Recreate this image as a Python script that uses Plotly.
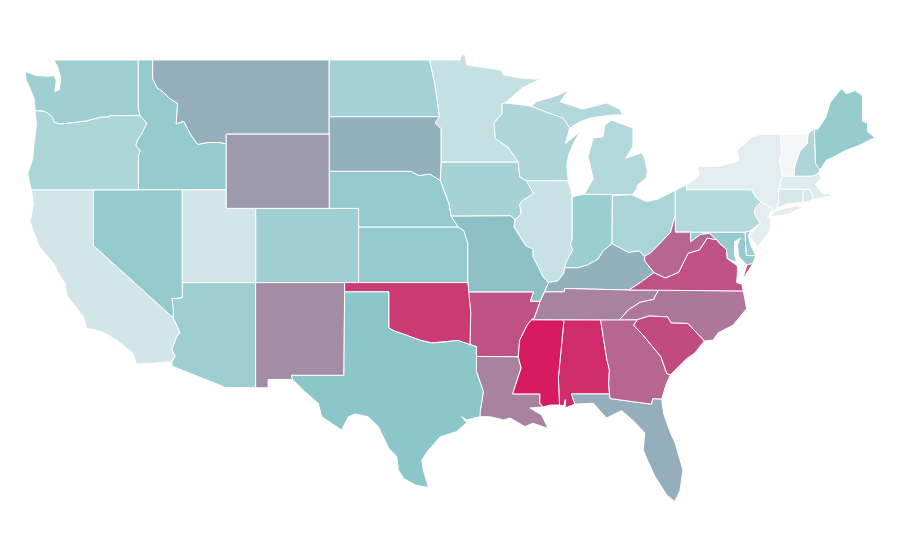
import plotly.graph_objects as go
from plotly.colors import sample_colorscale

# state values
states = ["AL","AR","AZ","CA","CO","CT","DE","FL","GA","IA","ID","IL","IN","KS","KY","LA","MA","MD","ME","MI","MN","MO","MS","MT","NC","ND","NE","NH","NJ","NM","NV","NY","OH","OK","OR","PA","RI","SC","SD","TN","TX","UT","VA","VT","WA","WI","WV","WY"]
values = [95,84,41,16,40,14,42,57,78,37,45,21,42,46,56,70,10,45,44,31,22,52,100,57,73,38,46,33,8,67,46,8,35,91,34,30,14,86,56,70,50,16,84,0,40,33,78,63]

colorscale = [[0, "rgb(244,245,247)"], [0.5, "rgb(138,198,202)"], [1, "rgb(216,27,96)"]]

# the topojson base map can't be fetched offline, so these are
# approximate state outlines (lon, lat), estimated by hand
WA = [(-117.04,49),(-122.76,49),(-122.5,48.6),(-122.3,48),(-122.4,47.4),(-122.7,47.3),(-122.6,47.9),(-122.75,48.15),(-123.3,48.12),(-124,48.17),(-124.73,48.38),(-124.65,47.9),(-124.3,47.3),(-124.1,46.9),(-124.05,46.27),(-123.5,46.25),(-123.2,46.15),(-122.85,45.9),(-122.75,45.65),(-122.3,45.55),(-121.2,45.65),(-120.5,45.72),(-119.6,45.92),(-119,45.93),(-118.98,46),(-116.92,46),(-117.04,46.42)]
OR = [(-124.05,46.27),(-123.95,45.5),(-124.1,44.6),(-124.2,43.7),(-124.55,42.84),(-124.3,42),(-117.03,42),(-117.03,43.83),(-116.9,44.1),(-117.2,44.4),(-117.05,44.75),(-116.85,44.95),(-116.5,45.5),(-116.47,45.6),(-116.92,46),(-118.98,46),(-119,45.93),(-119.6,45.92),(-120.5,45.72),(-121.2,45.65),(-122.3,45.55),(-122.75,45.65),(-122.85,45.9),(-123.2,46.15),(-123.5,46.25)]
CA = [(-124.3,42),(-120.08,42),(-120.08,39),(-114.65,35.1),(-114.2,34.3),(-114.43,34.08),(-114.75,33.37),(-114.52,33.03),(-114.75,32.73),(-117.15,32.6),(-117.4,33.2),(-118.5,33.9),(-119.5,34.35),(-120.53,34.54),(-120.77,35.16),(-121.9,36.33),(-122,36.95),(-122.47,37.5),(-122.7,37.95),(-123.76,38.94),(-124.39,40.28),(-124.16,41.18)]
NV = [(-120.08,42),(-114.04,42),(-114.04,36.2),(-114.37,36.15),(-114.75,36.15),(-114.65,35.6),(-114.65,35.1),(-120.08,39)]
ID = [(-117.04,49),(-116.05,49),(-116.05,48),(-115.75,47.5),(-115.3,47.25),(-114.95,46.95),(-114.35,46.65),(-114.45,45.55),(-113.95,45.7),(-113.45,44.95),(-113,44.45),(-112.3,44.55),(-111.5,44.55),(-111.05,44.48),(-111.05,42),(-117.03,42),(-117.03,43.83),(-116.9,44.1),(-117.2,44.4),(-117.05,44.75),(-116.85,44.95),(-116.5,45.5),(-116.47,45.6),(-116.92,46),(-117.04,46.42)]
MT = [(-116.05,49),(-104.05,49),(-104.05,45),(-111.05,45),(-111.05,44.48),(-111.5,44.55),(-112.3,44.55),(-113,44.45),(-113.45,44.95),(-113.95,45.7),(-114.45,45.55),(-114.35,46.65),(-114.95,46.95),(-115.3,47.25),(-115.75,47.5),(-116.05,48)]
WY = [(-111.05,45),(-104.05,45),(-104.05,41),(-111.05,41)]
UT = [(-114.04,42),(-111.05,42),(-111.05,41),(-109.05,41),(-109.05,37),(-114.04,37)]
CO = [(-109.05,41),(-102.05,41),(-102.05,37),(-109.05,37)]
AZ = [(-114.04,37),(-109.05,37),(-109.05,31.33),(-111.1,31.35),(-114.75,32.5),(-114.75,32.73),(-114.52,33.03),(-114.75,33.37),(-114.43,34.08),(-114.2,34.3),(-114.65,35.1),(-114.65,35.6),(-114.75,36.15),(-114.37,36.15),(-114.04,36.2)]
NM = [(-109.05,37),(-103,37),(-103.05,32),(-106.62,32),(-106.53,31.78),(-108.2,31.78),(-108.2,31.33),(-109.05,31.33)]
ND = [(-104.05,49),(-97.23,49),(-96.85,47.6),(-96.56,45.94),(-104.05,45.94)]
SD = [(-104.05,45.94),(-96.56,45.94),(-96.85,45.6),(-96.45,45.3),(-96.45,43.5),(-96.5,42.5),(-97.2,42.85),(-97.95,42.77),(-98.5,43),(-104.05,43)]
NE = [(-104.05,43),(-98.5,43),(-97.95,42.77),(-97.2,42.85),(-96.5,42.5),(-96.1,41.7),(-95.9,41.2),(-95.77,40.58),(-95.3,40),(-102.05,40),(-102.05,41),(-104.05,41)]
KS = [(-102.05,40),(-95.3,40),(-94.9,39.8),(-94.62,39.1),(-94.62,37),(-102.05,37)]
OK = [(-103,37),(-94.62,37),(-94.43,35.4),(-94.48,33.64),(-95.3,33.88),(-96.4,33.78),(-97.1,33.75),(-97.9,33.9),(-98.9,34.2),(-99.6,34.38),(-100,34.56),(-100,36.5),(-103,36.5)]
TX = [(-103,36.5),(-100,36.5),(-100,34.56),(-99.6,34.38),(-98.9,34.2),(-97.9,33.9),(-97.1,33.75),(-96.4,33.78),(-95.3,33.88),(-94.48,33.64),(-94.04,33.55),(-94.04,32.2),(-93.57,31.12),(-93.8,29.97),(-93.8,29.77),(-94.7,29.6),(-95.04,29.77),(-94.7,29.45),(-95.4,28.96),(-96.5,28.69),(-97.3,27.98),(-97.75,27.44),(-97.65,26.9),(-97.3,25.96),(-98.2,26.09),(-99,26.45),(-99.35,26.9),(-99.46,27.62),(-100,28.07),(-100.7,29.23),(-101.4,29.77),(-102.3,29.92),(-102.75,29.77),(-103.2,29.05),(-104.56,29.77),(-104.8,30.5),(-105.7,31.12),(-106.53,31.78),(-106.62,32),(-103.05,32)]
MN = [(-97.23,49),(-95.15,49),(-95.05,49.27),(-94.8,49.27),(-94.7,48.73),(-93.3,48.55),(-92.4,48.46),(-92.2,48.2),(-91.1,48.03),(-89.72,47.96),(-90.9,47.5),(-92.1,46.68),(-92.3,46.65),(-92.3,46.1),(-92.85,45.6),(-92.75,44.75),(-91.9,44.3),(-91.2,43.5),(-96.45,43.5),(-96.45,45.3),(-96.85,45.6),(-96.56,45.94),(-96.85,47.6)]
IA = [(-96.45,43.5),(-91.2,43.5),(-91.1,42.7),(-90.65,42.5),(-90.15,41.8),(-90.95,41.4),(-91.1,41.2),(-91,40.7),(-91.42,40.38),(-91.7,40.6),(-95.77,40.58),(-95.9,41.2),(-96.1,41.7),(-96.5,42.5)]
MO = [(-95.77,40.58),(-91.7,40.6),(-91.42,40.38),(-91.5,40),(-90.7,39),(-90.2,38.8),(-90.2,38.4),(-89.5,37.3),(-89.15,37),(-89.4,36.5),(-89.7,36),(-90.37,36),(-90.15,36.5),(-94.62,36.5),(-94.62,39.1),(-94.9,39.8),(-95.3,40)]
AR = [(-94.62,36.5),(-90.15,36.5),(-90.37,36),(-89.7,36),(-90.1,35.1),(-90.6,34.7),(-91.1,33.9),(-91.2,33),(-94.04,33.02),(-94.04,33.55),(-94.48,33.64),(-94.43,35.4)]
LA = [(-94.04,33.02),(-91.2,33),(-91,32.4),(-91.58,31),(-89.73,31),(-89.73,30.5),(-89.5,30.3),(-90.4,30.24),(-89.6,29.86),(-89.17,29.14),(-90.2,29.42),(-90.75,29.24),(-91.75,29.7),(-92.2,29.6),(-93.1,29.77),(-93.8,29.77),(-93.8,29.97),(-93.57,31.12),(-94.04,32.2)]
MS = [(-91.58,31),(-91,32.4),(-91.2,33),(-91.1,33.9),(-90.6,34.7),(-90.3,35),(-88.2,35),(-88.1,34.9),(-88.47,31.9),(-88.4,30.4),(-89,30.4),(-89.5,30.3),(-89.73,30.5),(-89.73,31)]
AL = [(-88.2,35),(-85.6,35),(-85.18,32.87),(-85,32.3),(-85.05,31.55),(-85,31),(-87.58,31),(-87.35,30.45),(-88,30.25),(-88,30.7),(-88.1,30.35),(-88.4,30.4),(-88.47,31.9),(-88.1,34.9)]
GA = [(-85.6,35),(-83.1,35),(-83.35,34.7),(-82.75,34.2),(-81.9,33.4),(-81.5,33),(-81.1,32.1),(-80.85,32.03),(-81.15,31.5),(-81.45,30.72),(-82.05,30.75),(-82.15,30.45),(-84.96,30.75),(-85,31),(-85.05,31.55),(-85,32.3),(-85.18,32.87)]
FL = [(-87.58,31),(-85,31),(-84.96,30.75),(-82.15,30.45),(-82.05,30.75),(-81.45,30.72),(-81.3,29.9),(-80.85,28.9),(-80.55,28.4),(-80,26.9),(-80.2,25.8),(-80.55,25.2),(-81.1,25.55),(-81.9,26.55),(-82.37,27.35),(-82.7,27.97),(-82.6,28.9),(-83.3,29.5),(-84.17,30.1),(-85.2,29.7),(-86.1,30.5),(-87.35,30.45)]
SC = [(-83.1,35),(-82.3,35.2),(-81.05,35.15),(-80.8,34.82),(-79.67,34.8),(-78.55,33.85),(-79.2,33.2),(-79.75,32.9),(-80.85,32.03),(-81.1,32.1),(-81.5,33),(-81.9,33.4),(-82.75,34.2),(-83.35,34.7)]
NC = [(-84.32,34.99),(-83.1,35),(-82.3,35.2),(-81.05,35.15),(-80.8,34.82),(-79.67,34.8),(-78.55,33.85),(-77.95,33.9),(-77.6,34.3),(-76.6,34.7),(-75.67,35.6),(-75.9,36.55),(-81.68,36.59),(-82,36.1),(-82.9,35.95),(-83.7,35.55)]
TN = [(-90.3,35),(-88.2,35),(-85.6,35),(-84.32,34.99),(-83.7,35.55),(-82.9,35.95),(-82,36.1),(-81.68,36.59),(-83.68,36.6),(-88.05,36.68),(-88.07,36.5),(-89.4,36.5),(-89.7,36),(-90.1,35.1)]
KY = [(-89.4,36.5),(-88.07,36.5),(-88.05,36.68),(-83.68,36.6),(-82.9,37),(-81.97,37.54),(-82.6,38.17),(-82.6,38.42),(-83,38.72),(-83.7,38.63),(-84.2,38.85),(-84.82,39.1),(-85.4,38.73),(-85.8,38.25),(-86.5,37.95),(-87.1,37.8),(-88.05,37.8),(-88.1,37.5),(-88.5,37.1),(-89.15,37)]
VA = [(-83.68,36.6),(-81.68,36.59),(-75.9,36.55),(-76,36.93),(-76.35,37),(-76.3,37.5),(-76.3,37.9),(-77,38.3),(-77.05,38.8),(-77.5,39.1),(-77.72,39.32),(-78.35,39.4),(-78.87,38.77),(-79.65,38.58),(-80.3,37.55),(-81.2,37.25),(-81.97,37.54),(-82.9,37)]
VA_SHORE = [(-75.95,37.15),(-75.25,38.03),(-75.65,37.95)]
WV = [(-81.97,37.54),(-81.2,37.25),(-80.3,37.55),(-79.65,38.58),(-78.87,38.77),(-78.35,39.4),(-77.72,39.32),(-78.2,39.65),(-78.8,39.6),(-79.48,39.2),(-79.48,39.72),(-80.52,39.72),(-80.52,40.64),(-80.85,39.7),(-81.7,39),(-82.2,38.6),(-82.6,38.42),(-82.6,38.17)]
MD = [(-79.48,39.72),(-75.79,39.72),(-75.7,38.46),(-75.05,38.45),(-75.25,38.03),(-75.65,37.95),(-76.2,38.4),(-76.3,39),(-76.1,39.4),(-76.5,39.2),(-76.5,38.5),(-76.35,38.1),(-77,38.3),(-77.05,38.8),(-77.5,39.1),(-77.72,39.32),(-78.2,39.65),(-78.8,39.6),(-79.48,39.2)]
DE = [(-75.79,39.72),(-75.42,39.8),(-75.55,39.5),(-75.4,39.05),(-75.05,38.45),(-75.7,38.46)]
PA = [(-80.52,41.98),(-79.76,42.27),(-79.76,42),(-75.35,42),(-75.05,41.6),(-74.7,41.36),(-75.1,41),(-75.15,40.7),(-74.75,40.2),(-75.42,39.8),(-75.79,39.72),(-80.52,39.72)]
NJ = [(-74.7,41.36),(-73.9,41),(-74.25,40.5),(-74,40.45),(-74.1,39.75),(-74.9,38.93),(-75.5,39.5),(-74.75,40.2),(-75.15,40.7),(-75.1,41)]
NY = [(-79.76,42.27),(-79,42.7),(-78.9,42.9),(-79.05,43.27),(-77.5,43.27),(-76.2,43.55),(-76.3,44.15),(-75.3,44.85),(-74.7,45),(-73.35,45),(-73.3,44),(-73.43,43.6),(-73.25,42.75),(-73.5,42.05),(-73.5,41.3),(-73.65,41),(-74,40.7),(-73.9,41),(-74.7,41.36),(-75.05,41.6),(-75.35,42),(-79.76,42)]
LONG_ISLAND = [(-74,40.6),(-73.7,40.87),(-72.3,41.15),(-71.87,41.07),(-72.8,40.7),(-73.9,40.55)]
VT = [(-73.35,45),(-71.5,45),(-71.55,44.5),(-72.05,44.1),(-72.4,43.3),(-72.46,42.73),(-73.25,42.75),(-73.43,43.6),(-73.3,44)]
NH = [(-71.5,45),(-71.08,45.3),(-71,43.55),(-70.98,43.4),(-70.7,43.07),(-70.82,42.87),(-71.25,42.74),(-72.46,42.73),(-72.4,43.3),(-72.05,44.1),(-71.55,44.5)]
ME = [(-71.08,45.3),(-70.85,45.25),(-70.3,45.9),(-70,46.7),(-69.23,47.46),(-68.9,47.18),(-68.3,47.35),(-67.79,47.07),(-67.8,45.7),(-67.45,45.6),(-67.45,45.15),(-66.97,44.82),(-68,44.4),(-69,44.1),(-69.8,43.75),(-70.25,43.6),(-70.7,43.07),(-70.98,43.4),(-71,43.55)]
MA = [(-73.5,42.05),(-73.25,42.75),(-72.46,42.73),(-71.25,42.74),(-70.82,42.87),(-70.6,42.65),(-71,42.3),(-70.65,41.95),(-70.5,41.78),(-70,41.8),(-69.95,41.67),(-70.65,41.55),(-71.12,41.5),(-71.38,42.02),(-71.8,42.02)]
CT = [(-73.5,42.05),(-71.8,42.02),(-71.85,41.32),(-72.9,41.25),(-73.65,41),(-73.5,41.3)]
RI = [(-71.8,42.02),(-71.38,42.02),(-71.12,41.5),(-71.5,41.37),(-71.85,41.32)]
WI = [(-92.3,46.65),(-92.1,46.68),(-90.9,46.57),(-90.3,46.5),(-89.1,46.13),(-88.15,45.87),(-87.7,45.33),(-88,44.5),(-87,45.14),(-87.5,44.4),(-87.8,43.8),(-87.9,43.25),(-87.8,42.49),(-90.65,42.5),(-91.1,42.7),(-91.2,43.5),(-91.9,44.3),(-92.75,44.75),(-92.85,45.6),(-92.3,46.1)]
IL = [(-90.65,42.5),(-87.8,42.49),(-87.6,41.9),(-87.53,41.6),(-87.53,39.35),(-87.65,39.1),(-87.5,38.75),(-87.95,38.1),(-88.05,37.8),(-88.1,37.5),(-88.5,37.1),(-89.15,37),(-89.5,37.3),(-90.2,38.4),(-90.2,38.8),(-90.7,39),(-91.5,40),(-91.42,40.38),(-91,40.7),(-91.1,41.2),(-90.95,41.4),(-90.15,41.8)]
IN = [(-87.53,41.6),(-87.2,41.7),(-86.7,41.76),(-84.8,41.76),(-84.82,39.1),(-85.4,38.73),(-85.8,38.25),(-86.5,37.95),(-87.1,37.8),(-88.05,37.8),(-87.95,38.1),(-87.5,38.75),(-87.65,39.1),(-87.53,39.35)]
OH = [(-84.8,41.7),(-83.45,41.73),(-82.5,41.37),(-81.7,41.5),(-80.52,41.98),(-80.52,40.64),(-80.85,39.7),(-81.7,39),(-82.2,38.6),(-82.6,38.42),(-83,38.72),(-83.7,38.63),(-84.2,38.85),(-84.82,39.1)]
MI_LOWER = [(-86.7,41.76),(-84.8,41.76),(-83.45,41.73),(-83.15,42.05),(-83.1,42.25),(-82.5,42.65),(-82.42,43),(-82.6,43.7),(-82.8,44),(-83.9,43.7),(-83.4,44.33),(-83.4,45.33),(-84.85,45.76),(-85.3,45.5),(-85.45,44.85),(-86.1,44.8),(-86.45,43.8),(-86.1,42.6),(-86.6,41.9)]
MI_UPPER = [(-90.3,46.5),(-89.95,46.75),(-88.5,47.1),(-87.8,47.38),(-88.35,46.75),(-87.2,46.48),(-86.8,46.35),(-85.2,46.68),(-84.3,46.35),(-84.1,46.03),(-84.85,46.03),(-86.3,45.87),(-87,45.67),(-87.7,45.33),(-88.15,45.87),(-89.1,46.13)]

outlines = {
    "WA": [WA], "OR": [OR], "CA": [CA], "NV": [NV], "ID": [ID], "MT": [MT], "WY": [WY], "UT": [UT],
    "CO": [CO], "AZ": [AZ], "NM": [NM], "ND": [ND], "SD": [SD], "NE": [NE], "KS": [KS], "OK": [OK],
    "TX": [TX], "MN": [MN], "IA": [IA], "MO": [MO], "AR": [AR], "LA": [LA], "MS": [MS], "AL": [AL],
    "GA": [GA], "FL": [FL], "SC": [SC], "NC": [NC], "TN": [TN], "KY": [KY], "VA": [VA, VA_SHORE],
    "WV": [WV], "MD": [MD], "DE": [DE], "PA": [PA], "NJ": [NJ], "NY": [NY, LONG_ISLAND], "VT": [VT],
    "NH": [NH], "ME": [ME], "MA": [MA], "CT": [CT], "RI": [RI], "WI": [WI], "IL": [IL], "IN": [IN],
    "OH": [OH], "MI": [MI_LOWER, MI_UPPER],
}

fig = go.Figure()

# reference has a plain linear lon/lat scale, so ordinary x/y axes fit it
# better than any geo projection
for code, value in zip(states, values):
    lons, lats = [], []
    for ring in outlines[code]:
        for lon, lat in list(ring) + [ring[0]]:
            lons.append(lon)
            lats.append(lat)
        lons.append(None)
        lats.append(None)
    fig.add_trace(go.Scatter(
        x=lons[:-1],
        y=lats[:-1],
        mode="lines",
        fill="toself",
        fillcolor=sample_colorscale(colorscale, value / 100)[0],
        line=dict(color="white", width=1),
        name=code,
        text=f"{code}: {value}",
        hoverinfo="text",
        showlegend=False,
    ))

# page body has an 8px margin, so the figure is 16px smaller than the window
fig.update_layout(
    width=884,
    height=544,
    margin=dict(l=0, r=0, t=0, b=0),
    paper_bgcolor="white",
    plot_bgcolor="white",
    xaxis=dict(visible=False, range=[-125.886, -65.79]),
    yaxis=dict(visible=False, range=[22.48, 51.80]),
)

fig.write_html("out.html")
